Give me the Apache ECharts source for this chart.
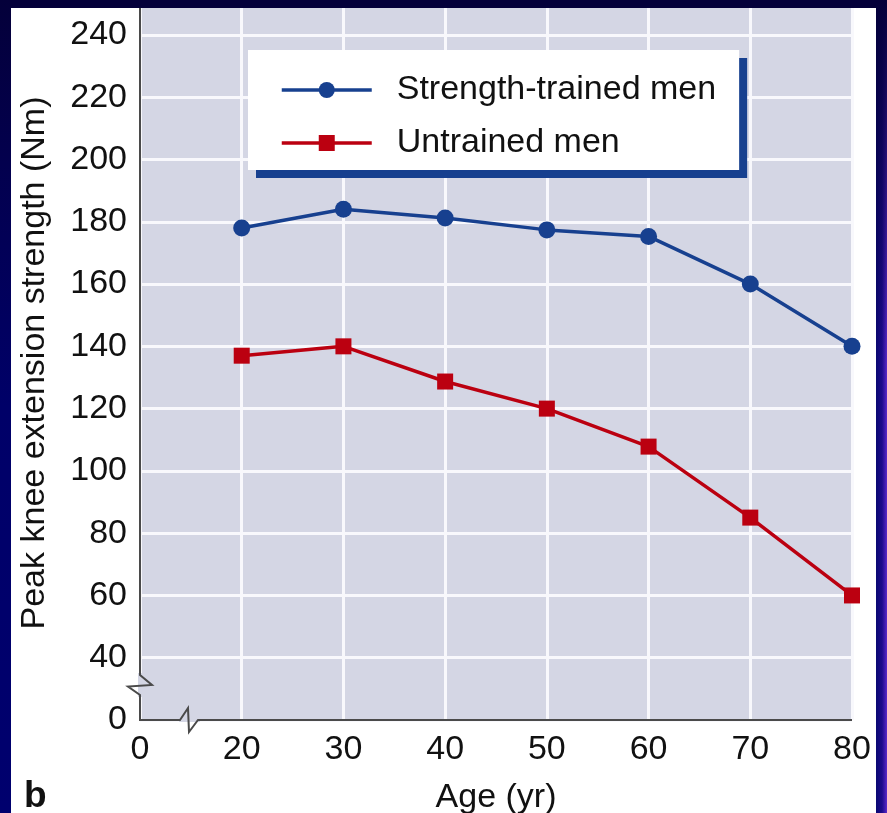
<!DOCTYPE html>
<html><head><meta charset="utf-8">
<script src="https://cdn.jsdelivr.net/npm/echarts@6/dist/echarts.min.js"></script>
<style>
html,body{margin:0;padding:0;background:#fff;}
#wrap{position:relative;width:887px;height:813px;overflow:hidden;}
#chart{position:absolute;left:0;top:0;width:887px;height:813px;}
.f{position:absolute;pointer-events:none;z-index:10;}
#ft{left:0;top:0;width:887px;height:8px;background:#04003a;}
#fl{left:0;top:0;width:11px;height:813px;background:linear-gradient(to bottom,#04003a 0%,#03004e 20%,#000068 50%,#00006e 100%);}
#fr{left:876px;top:0;width:11px;height:813px;background:linear-gradient(to bottom,rgba(4,0,58,1) 0%,rgba(4,0,58,0) 45%),linear-gradient(to right,#0a0872 0%,#1c0a8c 55%,#5a28c8 100%);}
</style></head>
<body>
<div id="wrap">
<div id="chart"></div>
<div class="f" id="ft"></div>
<div class="f" id="fl"></div>
<div class="f" id="fr"></div>
</div>
<script>
// ---- data ----
const ages = [20, 30, 40, 50, 60, 70, 80];
const trained = [178, 184, 181.2, 177.4, 175.3, 160, 140];
const untrained = [137, 140, 128.7, 120, 107.8, 85, 60];
const seriesNames = ['Strength-trained men', 'Untrained men'];
const xTickLabels = ['0', '20', '30', '40', '50', '60', '70', '80'];   // first shown at the axis break
const yTickLabels = ['0', '40', '60', '80', '100', '120', '140', '160', '180', '200', '220', '240'];
const xAxisTitle = 'Age (yr)';
const yAxisTitle = 'Peak knee extension strength (Nm)';
const panelLetter = 'b';

// axis ranges (broken axes: "0" is drawn where 10 / 20 would be)
const xMin = 10, xMax = 80, xStep = 10;
const yMin = 20, yMax = 249.3, yStep = 20;

const FONT = 'Liberation Sans, Arial, Helvetica, sans-serif';
const BLUE = '#17408f', RED = '#bb0010', BG = '#d4d6e4', AXIS = '#4a4a4a';

function tickLabel(v, min, step, labels) {
  const i = Math.round((v - min) / step);
  if (Math.abs(v - (min + i * step)) > 1e-6) return '';
  return labels[i] !== undefined ? labels[i] : '';
}

const chart = echarts.init(document.getElementById('chart'), null, {renderer: 'canvas'});
chart.setOption({
  animation: false,
  grid: {left: 140, right: 35, top: 6, bottom: 93, show: true, backgroundColor: BG, borderWidth: 0,
         containLabel: false, outerBoundsMode: 'none'},
  legend: {
    orient: 'vertical', left: 248, top: 50,
    padding: [21, 23, 8, 32], itemGap: 15, itemWidth: 90, itemHeight: 20,
    backgroundColor: '#fff', shadowColor: BLUE, shadowOffsetX: 8, shadowOffsetY: 8, shadowBlur: 0.01,
    lineStyle: {width: 3.5},
    textStyle: {fontSize: 34, color: '#111', fontFamily: FONT, lineHeight: 38, padding: [0, 0, 0, 20]},
    data: seriesNames
  },
  xAxis: {
    type: 'value', min: xMin, max: xMax, interval: xStep,
    name: xAxisTitle, nameLocation: 'middle', nameGap: 61,
    nameTextStyle: {fontSize: 34, color: '#111', fontFamily: FONT},
    axisLine: {show: false}, axisTick: {show: false},
    axisLabel: {fontSize: 34, color: '#111', fontFamily: FONT, margin: 13,
      formatter: v => tickLabel(v, xMin, xStep, xTickLabels)},
    splitLine: {show: true, lineStyle: {color: '#f8f8fc', width: 3}}
  },
  yAxis: {
    type: 'value', min: yMin, max: yMax, interval: yStep,
    name: yAxisTitle, nameLocation: 'middle', nameGap: 88,
    nameTextStyle: {fontSize: 34, color: '#111', fontFamily: FONT},
    axisLine: {show: false}, axisTick: {show: false},
    axisLabel: {fontSize: 34, color: '#111', fontFamily: FONT, margin: 13,
      formatter: v => tickLabel(v, yMin, yStep, yTickLabels)},
    splitLine: {show: true, lineStyle: {color: '#f8f8fc', width: 3}}
  },
  series: [
    {name: seriesNames[0], type: 'line', data: ages.map((a, i) => [a, trained[i]]),
     symbol: 'circle', symbolSize: 17, clip: false,
     lineStyle: {color: BLUE, width: 3.5}, itemStyle: {color: BLUE}, z: 3},
    {name: seriesNames[1], type: 'line', data: ages.map((a, i) => [a, untrained[i]]),
     symbol: 'rect', symbolSize: 16, clip: false,
     lineStyle: {color: RED, width: 3.5}, itemStyle: {color: RED}, z: 3}
  ]
});

// axis lines with break marks, anchored to the axis scales
const pTop = chart.convertToPixel({gridIndex: 0}, [xMin, yMax]);
const pC = chart.convertToPixel({gridIndex: 0}, [xMin, yMin]);
const pR = chart.convertToPixel({gridIndex: 0}, [xMax, yMin]);
const cx = pC[0], cy = pC[1];
chart.setOption({
  graphic: [
    {type: 'rect', z: 1, shape: {x: cx - 2, y: cy - 47, width: 4, height: 24}, style: {fill: BG}},
    {type: 'rect', z: 1, shape: {x: cx + 39, y: cy - 2, width: 21, height: 4}, style: {fill: BG}},
    {type: 'polyline', z: 1, shape: {points: [
      [cx, pTop[1]], [cx, cy - 45], [cx + 12, cy - 35], [cx - 12, cy - 33.5], [cx, cy - 25], [cx, cy],
      [cx + 40, cy], [cx + 48, cy - 12], [cx + 49, cy + 12], [cx + 58, cy], [pR[0], cy]
    ]}, style: {stroke: AXIS, lineWidth: 2, fill: null, lineJoin: 'miter'}},
    {type: 'text', z: 5, left: 24, top: 778, style: {text: panelLetter, fontSize: 37, fontWeight: 'bold', fill: '#111', fontFamily: FONT}}
  ]
});
</script>
</body></html>
